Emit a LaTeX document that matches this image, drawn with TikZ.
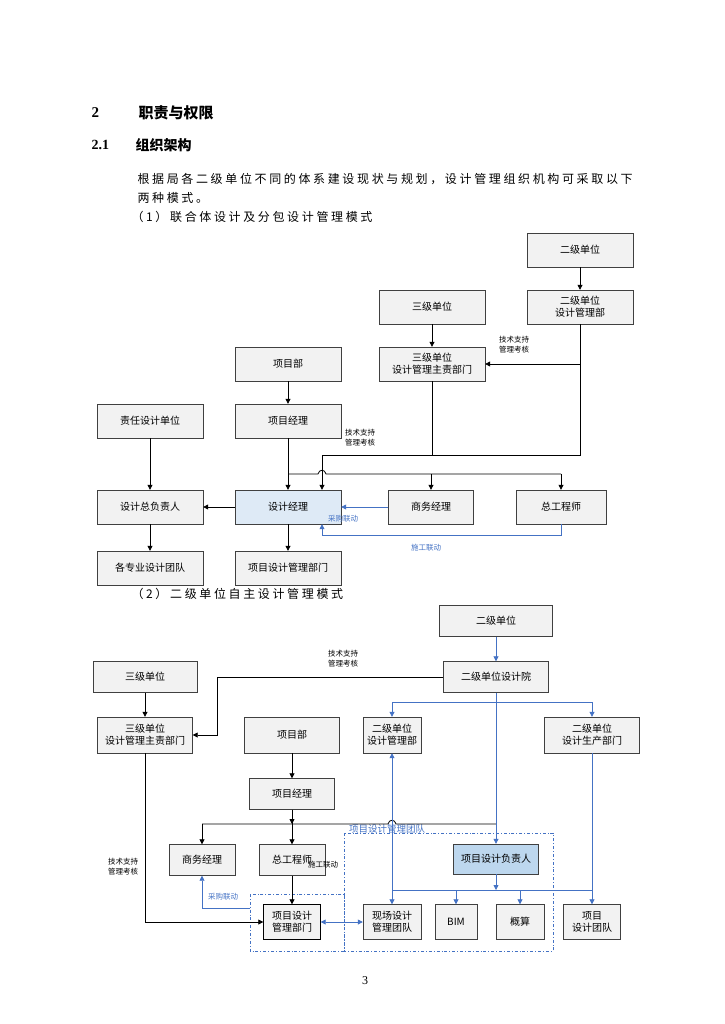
\documentclass[tikz,border=0pt]{standalone}
\usepackage{fontspec}
\setmainfont{Liberation Serif}
\newfontfamily\cjk{Noto Sans CJK SC}
\newfontfamily\cjkwide[LetterSpace=22]{Noto Sans CJK SC}
\usetikzlibrary{arrows.meta,positioning}
\definecolor{lnblue}{HTML}{4472C4}
\definecolor{boxgray}{HTML}{F2F2F2}
\definecolor{fillA}{HTML}{DEEAF6}
\definecolor{fillB}{HTML}{BDD7EE}
\tikzset{
  box/.style={draw=black!75, fill=boxgray, minimum width=106, minimum height=34, inner sep=1, align=center, font=\cjk\fontsize{10}{12}\selectfont},
  arr/.style={-{Triangle[length=5,width=5]}, thick},
  barr/.style={arr, lnblue},
  lbl/.style={font=\cjk\fontsize{7.5}{10}\selectfont, align=left, inner sep=0},
  team/.style={draw=lnblue, thick, dash dot}
}
\begin{document}
\begin{tikzpicture}[x=1pt,y=-1pt]
\useasboundingbox (0,0) rectangle (724,1024);
% text
\node[anchor=west, font=\bfseries\fontsize{15}{18}\selectfont] at (88,113) {2};
\node[anchor=west, font=\cjk\bfseries\fontsize{15}{18}\selectfont] at (135,113) {职责与权限};
\node[anchor=west, font=\bfseries\fontsize{14}{18}\selectfont] at (88,145) {2.1};
\node[anchor=west, font=\cjk\bfseries\fontsize{14}{18}\selectfont] at (132,145) {组织架构};
\node[anchor=west, font=\cjkwide\fontsize{12}{14}\selectfont] at (134,179) {根据局各二级单位不同的体系建设现状与规划，设计管理组织机构可采取以下};
\node[anchor=west, font=\cjkwide\fontsize{12}{14}\selectfont] at (134,198) {两种模式。};
\node[anchor=west, font=\cjkwide\fontsize{12}{14}\selectfont] at (128,217) {（1）联合体设计及分包设计管理模式};
\node[anchor=west, font=\cjkwide\fontsize{12}{14}\selectfont] at (128,594) {（2）二级单位自主设计管理模式};
\node[font=\fontsize{12}{14}\selectfont] at (365,981) {3};

% mode 1
\node[box] (a2) at (580,250) {二级单位};
\node[box] (a2d) at (580,307) {二级单位\\设计管理部};
\node[box] (a3) at (432,307) {三级单位};
\node[box] (a3d) at (432,364) {三级单位\\设计管理主责部门};
\node[box] (apd) at (288,364) {项目部};
\node[box] (apm) at (288,421) {项目经理};
\node[box] (azr) at (150,421) {责任设计单位};
\node[box] (azf) at (150,507) {设计总负责人};
\node[box, fill=fillA] (adm) at (288,507) {设计经理};
\node[box, minimum width=85] (asw) at (431,507) {商务经理};
\node[box, minimum width=90] (azg) at (561,507) {总工程师};
\node[box] (atd) at (150,568) {各专业设计团队};
\node[box] (apg) at (288,568) {项目设计管理部门};
\coordinate (aj) at (322,455);
\node[lbl] at (514,345) {技术支持\\管理考核};
\node[lbl] at (360,438) {技术支持\\管理考核};
\node[lbl, text=lnblue] at (343,519) {采购联动};
\node[lbl, text=lnblue] at (426,548) {施工联动};

\draw[arr] (a2) -- (a2d);
\draw[arr] (a3) -- (a3d);
\draw[arr] (apd) -- (apm);
\draw[arr] (azr) -- (azf);
\draw[arr] (azf) -- (atd);
\draw[arr] (adm) -- (apg);
\draw[arr] (adm) -- (azf);
\draw[arr] (apm) -- (adm);
\draw[arr] (a2d.south) |- (a3d.east);
\draw[arr] (a2d.south) |- (aj) -- (aj |- adm.north);
\draw[thick] (a3d.south) -- (a3d.south |- aj);
\draw[thick] (288,474) -- (318,474) .. controls (319,469) and (325,469) .. (326,474) -- (azg.north |- 0,474);
\draw[arr] (asw.north |- 0,474) -- (asw.north);
\draw[arr] (azg.north |- 0,474) -- (azg.north);
\draw[barr] (asw.west) -- (adm.east);
\draw[barr] (azg.south) |- (322,535) -- (aj |- adm.south);

% mode 2
\node[box, minimum width=113, minimum height=31] (b2) at (496,621) {二级单位};
\node[box, minimum width=105, minimum height=31] (b2y) at (496,677) {二级单位设计院};
\node[box, minimum width=104, minimum height=31] (b3) at (145,677) {三级单位};
\node[box, minimum width=95, minimum height=36] (b3d) at (145,735) {三级单位\\设计管理主责部门};
\node[box, minimum width=95, minimum height=36] (bpd) at (292,735) {项目部};
\node[box, minimum width=58, minimum height=36] (b2d) at (392,735) {二级单位\\设计管理部};
\node[box, minimum width=95, minimum height=36] (b2s) at (592,735) {二级单位\\设计生产部门};
\node[box, minimum width=85, minimum height=31] (bpm) at (292,794) {项目经理};
\node[box, minimum width=66, minimum height=31] (bsw) at (202,860) {商务经理};
\node[box, minimum width=66, minimum height=31] (bzg) at (292,860) {总工程师};
\node[box, minimum width=85, minimum height=30, fill=fillB] (bfz) at (496,859) {项目设计负责人};
\node[box, minimum width=57, minimum height=35, draw=black] (bpg) at (292,922) {项目设计\\管理部门};
\node[box, minimum width=58, minimum height=35] (bxc) at (392,922) {现场设计\\管理团队};
\node[box, minimum width=42, minimum height=35] (bbim) at (456,922) {BIM};
\node[box, minimum width=48, minimum height=35] (bgs) at (520,922) {概算};
\node[box, minimum width=57, minimum height=35] (bxt) at (592,922) {项目\\设计团队};
\draw[team] (250,894) rectangle (344,951);
\draw[team] (344,833) rectangle (553,951);
\node[lbl, anchor=west, text=lnblue, font=\cjk\fontsize{9.5}{11}\selectfont] at (349,829) {项目设计管理团队};
\node[lbl] at (343,659) {技术支持\\管理考核};
\node[lbl] at (123,867) {技术支持\\管理考核};
\node[lbl] at (323,865) {施工联动};
\node[lbl, text=lnblue] at (223,897) {采购联动};

\draw[barr] (b2) -- (b2y);
\draw[arr] (b3) -- (b3d);
\draw[arr] (bpd) -- (bpm);
\draw[arr] (b2y.west) -- (217,677) |- (b3d.east);
\draw[arr] (b3d.south) |- (bpg.west);
\draw[arr] (bpm) -- (bzg);
\draw[arr] (bzg) -- (bpg);
\draw[thick] (bsw.north |- 0,824) -- (388,824) .. controls (389,819) and (395,819) .. (396,824) -- (496,824);
\draw[arr] (bsw.north |- 0,824) -- (bsw.north);
\draw[arr] (bpm.south) -- (292,824);
\draw[barr] (b2y.south) -- (bfz.north);
\draw[barr] (392,702) -- (b2d.north);
\draw[barr] (392,702) -- (592,702) -- (b2s.north);
\draw[barr] (bfz.south) -- (496,890);
\draw[barr] (b2s.south) -- (bxt.north);
\draw[lnblue, thick] (392,890) -- (592,890);
\draw[barr] (456,890) -- (bbim.north);
\draw[barr] (520,890) -- (bgs.north);
\draw[barr, {Triangle[length=5,width=5]}-{Triangle[length=5,width=5]}] (b2d.south) -- (bxc.north);
\draw[barr, {Triangle[length=5,width=5]}-{Triangle[length=5,width=5]}] (bpg.east) -- (bxc.west);
\draw[barr] (250,908) -| (bsw.south);
\end{tikzpicture}
\end{document}
